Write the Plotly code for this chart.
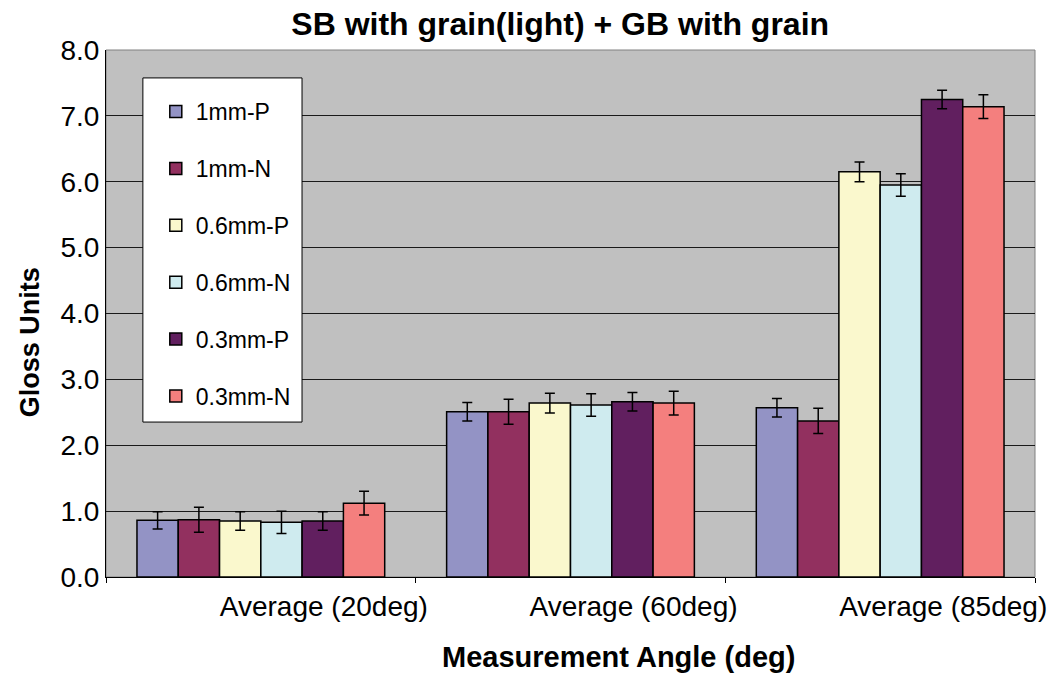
import plotly.graph_objects as go

# --- data
categories = ["Average (20deg)", "Average (60deg)", "Average (85deg)"]
series_names = ["1mm-P", "1mm-N", "0.6mm-P", "0.6mm-N", "0.3mm-P", "0.3mm-N"]
series_colors = ["#9393C5", "#92305F", "#FAF8CD", "#CFEBEF", "#611F5F", "#F47F7E"]

means = [
    [0.86, 2.51, 2.57],   # 1mm-P
    [0.87, 2.51, 2.37],   # 1mm-N
    [0.85, 2.64, 6.15],   # 0.6mm-P
    [0.83, 2.61, 5.95],   # 0.6mm-N
    [0.85, 2.66, 7.25],   # 0.3mm-P
    [1.12, 2.64, 7.14],   # 0.3mm-N
]
errors = [
    [0.13, 0.14, 0.14],
    [0.19, 0.19, 0.19],
    [0.14, 0.15, 0.15],
    [0.17, 0.17, 0.17],
    [0.14, 0.14, 0.14],
    [0.18, 0.18, 0.18],
]

FONT = "Arial, Liberation Sans, sans-serif"

fig = go.Figure()

for name, color, ys, errs in zip(series_names, series_colors, means, errors):
    fig.add_trace(
        go.Bar(
            x=categories,
            y=ys,
            name=name,
            legendgroup=name,
            marker=dict(color=color, line=dict(color="black", width=1.5)),
            error_y=dict(type="data", array=errs, color="black",
                         thickness=1.5, width=5),
        )
    )

# plot area border (grey, Excel style)
fig.add_shape(
    type="rect", xref="paper", yref="paper", x0=0, x1=1, y0=0, y1=1,
    line=dict(color="#808080", width=1), layer="below",
)
# white legend box with black frame
fig.add_shape(
    type="rect", xref="paper", yref="paper", x0=0.0397, x1=0.211, y0=0.294, y1=0.947,
    line=dict(color="black", width=1), fillcolor="white", layer="above",
)

fig.update_layout(
    width=1059,
    height=673,
    barmode="group",
    bargap=0.2,
    bargroupgap=0,
    paper_bgcolor="white",
    plot_bgcolor="#C0C0C0",
    margin=dict(l=106, r=20, t=50, b=96),
    font=dict(family=FONT, color="black"),
    title=dict(
        text="<b>SB with grain(light) + GB with grain</b>",
        font=dict(size=32, family=FONT),
        x=0.529, xref="container", xanchor="center",
        y=0.964, yanchor="middle",
    ),
    showlegend=True,
    legend=dict(
        x=0.0536, y=0.924, xanchor="left", yanchor="top",
        bgcolor="rgba(0,0,0,0)", borderwidth=0,
        font=dict(size=23, family=FONT),
        tracegroupgap=24,
        itemwidth=30,
    ),
    xaxis=dict(
        type="category",
        tickson="boundaries",
        ticks="outside",
        ticklen=5,
        tickcolor="black",
        showline=True,
        linecolor="black",
        linewidth=1,
        showgrid=False,
        tickfont=dict(size=28, family=FONT),
        ticklabelshift=63,
        ticklabelstandoff=4,
    ),
    yaxis=dict(
        range=[0, 8],
        dtick=1,
        tickformat=".1f",
        ticks="",
        showline=True,
        linecolor="black",
        linewidth=1,
        showgrid=True,
        gridcolor="#1a1a1a",
        gridwidth=1,
        zeroline=False,
        tickfont=dict(size=28, family=FONT),
    ),
    annotations=[
        dict(
            text="<b>Measurement Angle (deg)</b>",
            xref="paper", yref="paper", x=0.552, y=-0.152,
            xanchor="center", yanchor="middle", showarrow=False,
            font=dict(size=29, family=FONT),
        ),
        dict(
            text="<b>Gloss Units</b>",
            xref="paper", yref="paper", x=-0.081, y=0.445,
            xanchor="center", yanchor="middle", showarrow=False,
            textangle=-90,
            font=dict(size=27, family=FONT),
        ),
    ],
)

fig.write_html(
    "out.html",
    config={"displayModeBar": False},
    post_script="document.body.style.margin='0';document.body.style.overflow='hidden';",
)
